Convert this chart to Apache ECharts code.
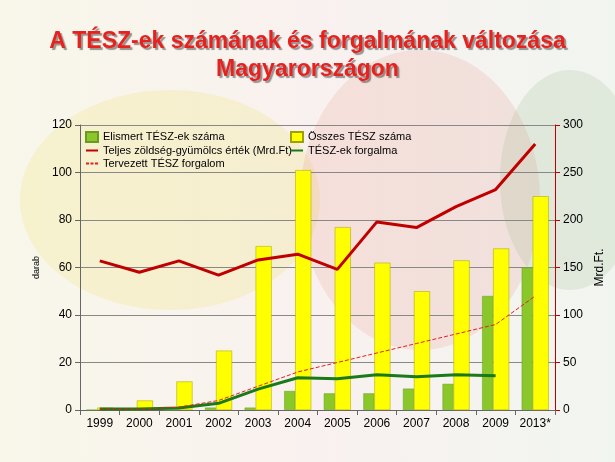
<!DOCTYPE html>
<html><head><meta charset="utf-8">
<script src="https://cdn.jsdelivr.net/npm/echarts@6/dist/echarts.min.js"></script>
<style>html,body{margin:0;padding:0;background:#fff}#c{width:615px;height:462px}</style>
</head><body><div id="c"></div>
<script>
const categories = ['1999','2000','2001','2002','2003','2004','2005','2006','2007','2008','2009','2013*'];
const elismert = [0,0,0,1,1,8,7,7,9,11,48,60];
const osszes = [1,4,12,25,69,101,77,62,50,63,68,90];
const teljes = [157,145,157,142,158,164,148,198,192,214,232,280];
const forgalma = [1,1,2,7,22,34,33,37,35,37,36,null];
const tervezett = [1,1,3,10,25,40,50,60,70,80,90,120];

const chart = echarts.init(document.getElementById('c'));
const lbl = {fontFamily:'Liberation Sans, Arial', fontSize:11, color:'#000'};
const lineIcon = 'path://M0,4h12v2h-12z';
const dashIcon = 'path://M0,4h3v2h-3zM4.5,4h3v2h-3zM9,4h3v2h-3z';
chart.setOption({
  backgroundColor: {type:'linear',x:0,y:0,x2:1,y2:0,colorStops:[{offset:0,color:'#f8f7ea'},{offset:0.5,color:'#f9f1ef'},{offset:1,color:'#f1f5f0'}]},
  graphic: [
    {type:'ellipse', shape:{cx:170,cy:200,rx:150,ry:110}, style:{fill:'rgba(240,228,120,0.25)'}, z:-10},
    {type:'ellipse', shape:{cx:420,cy:200,rx:120,ry:150}, style:{fill:'rgba(225,120,110,0.15)'}, z:-10},
    {type:'ellipse', shape:{cx:570,cy:180,rx:70,ry:110}, style:{fill:'rgba(120,170,110,0.15)'}, z:-10},
    {type:'text', left:'center', top:28, style:{text:'A TÉSZ-ek számának és forgalmának változása\nMagyarországon', fill:'#e8211f', font:'bold 23px Liberation Sans, Arial', textAlign:'center', lineHeight:28, textShadowColor:'rgba(0,0,0,0.4)', textShadowOffsetX:2, textShadowOffsetY:2, textShadowBlur:1}}
  ],
  grid: {left:80, right:60, top:125, bottom:52},
  legend: [
    {orient:'vertical', left:80, top:126, itemGap:2, itemWidth:12, itemHeight:10, textStyle:lbl, data:[{name:'Elismert TÉSZ-ek száma',icon:'rect'},{name:'Teljes zöldség-gyümölcs érték (Mrd.Ft)',icon:lineIcon},{name:'Tervezett TÉSZ forgalom',icon:dashIcon}]},
    {orient:'vertical', left:285, top:126, itemGap:2, itemWidth:12, itemHeight:10, textStyle:lbl, data:[{name:'Összes TÉSZ száma',icon:'rect'},{name:'TÉSZ-ek forgalma',icon:lineIcon}]}
  ],
  xAxis: {type:'category', data:categories, axisLine:{lineStyle:{color:'#666'}}, axisTick:{show:true}, axisLabel:{...lbl, fontSize:12, interval:0}},
  yAxis: [
    {type:'value', min:0, max:120, interval:20, name:'darab', nameLocation:'middle', nameGap:38, nameTextStyle:{...lbl, fontSize:9}, axisLine:{show:true,lineStyle:{color:'#666'}}, axisTick:{show:true}, axisLabel:{...lbl, fontSize:12}, splitLine:{lineStyle:{color:'#888'}}},
    {type:'value', min:0, max:300, interval:50, name:'Mrd.Ft.', nameLocation:'middle', nameGap:38, nameTextStyle:{...lbl, fontSize:12}, axisLine:{show:true,lineStyle:{color:'#c00000'}}, axisTick:{show:true}, axisLabel:{...lbl, fontSize:12}, splitLine:{show:false}}
  ],
  series: [
    {name:'Elismert TÉSZ-ek száma', type:'bar', data:elismert, barWidth:11, barGap:'0%', itemStyle:{color:'#8ac72a', borderColor:'#6a9a20', borderWidth:0.5}},
    {name:'Összes TÉSZ száma', type:'bar', data:osszes, barWidth:16, itemStyle:{color:'#ffff00', borderColor:'#a0a000', borderWidth:0.5}},
    {name:'Teljes zöldség-gyümölcs érték (Mrd.Ft)', type:'line', yAxisIndex:1, data:teljes, symbol:'none', lineStyle:{color:'#c00000', width:3}, itemStyle:{color:'#c00000'}},
    {name:'TÉSZ-ek forgalma', type:'line', yAxisIndex:1, data:forgalma, symbol:'none', lineStyle:{color:'#1a7a1a', width:3}, itemStyle:{color:'#1a7a1a'}},
    {name:'Tervezett TÉSZ forgalom', type:'line', yAxisIndex:1, data:tervezett, symbol:'none', lineStyle:{color:'#e02020', width:1, type:'dashed'}, itemStyle:{color:'#e02020'}}
  ]
});
</script></body></html>
